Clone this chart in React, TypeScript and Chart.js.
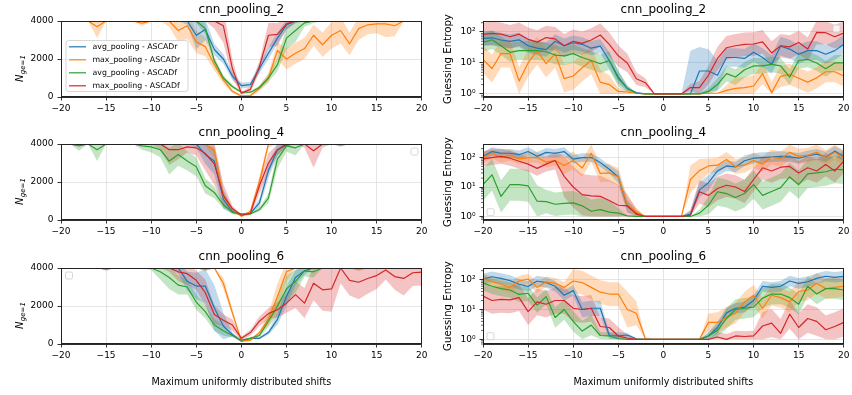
import React, { useEffect, useRef } from 'react';
import { Chart, registerables } from 'chart.js';

Chart.register(...registerables);

const FONT = "'DejaVu Sans', 'Liberation Sans', sans-serif";

// ---------------- shared labels ----------------
const shifts = [-20, -19, -18, -17, -16, -15, -14, -13, -12, -11, -10, -9, -8, -7, -6, -5, -4, -3, -2, -1, 0, 1, 2, 3, 4, 5, 6, 7, 8, 9, 10, 11, 12, 13, 14, 15, 16, 17, 18, 19, 20];
const seriesNames = ['avg_pooling - ASCADr', 'max_pooling - ASCADr', 'avg_pooling - ASCADf', 'max_pooling - ASCADf'];
const seriesColors = ['#1f77b4', '#ff7f0e', '#2ca02c', '#d62728'];
const modelTitles = ['cnn_pooling_2', 'cnn_pooling_4', 'cnn_pooling_6'];
const xTickValues = [-20, -15, -10, -5, 0, 5, 10, 15, 20];
const nTickValues = [0, 2000, 4000];
const geTickValues = [1, 10, 100];
const geTickLabels = ['10\u2070', '10\u00b9', '10\u00b2'];
const geMinorMultipliers = [2, 3, 4, 5, 6, 7, 8, 9];
const geMinorDecades = [0.1, 1, 10, 100];
const xAxisLabel = 'Maximum uniformly distributed shifts';
const geAxisLabel = 'Guessing Entropy';
const nAxisMain = 'N';
const nAxisSub = 'ge=1';

// ---------------- cnn_pooling_2 : N_ge=1 (mean, std) ----------------
const p2N_avgR = [4000, 4000, 4000, 4000, 4000, 4000, 4000, 4000, 4000, 4000, 4000, 4000, 4000, 4000, 4000, 3250, 3550, 2500, 2000, 1100, 600, 650, 1500, 2300, 3100, 3800, 4000, 4000, 4000, 4000, 4000, 4000, 4000, 4000, 4000, 4000, 4000, 4000, 4000, 4000, 4000];
const p2N_avgR_sd = [0, 0, 0, 0, 0, 0, 0, 0, 0, 0, 0, 0, 0, 0, 200, 750, 550, 300, 250, 200, 150, 150, 250, 300, 300, 250, 100, 0, 0, 0, 0, 0, 0, 0, 0, 0, 0, 0, 0, 0, 0];
const p2N_maxR = [4000, 4000, 4000, 4000, 3700, 4000, 4000, 4000, 4000, 3880, 4000, 4000, 4000, 3500, 3750, 2900, 2650, 1700, 900, 300, 50, 80, 450, 1000, 2450, 2000, 2300, 2550, 3250, 2750, 3250, 3500, 2800, 3600, 3800, 3850, 3850, 3750, 4000, 4000, 4000];
const p2N_maxR_sd = [0, 0, 0, 0, 600, 0, 0, 0, 0, 150, 0, 0, 300, 600, 700, 600, 500, 300, 200, 100, 50, 50, 150, 250, 450, 550, 550, 550, 550, 650, 700, 700, 600, 600, 500, 500, 700, 550, 0, 0, 0];
const p2N_avgF = [4000, 4000, 4000, 4000, 4000, 4000, 4000, 4000, 4000, 4000, 4000, 4000, 4000, 4000, 4000, 4000, 3600, 1900, 1000, 550, 250, 250, 500, 1000, 1700, 3100, 3500, 3900, 4000, 4000, 4000, 4000, 4000, 4000, 4000, 4000, 4000, 4000, 4000, 4000, 4000];
const p2N_avgF_sd = [0, 0, 0, 0, 0, 0, 0, 0, 0, 0, 0, 0, 0, 0, 0, 100, 300, 200, 150, 100, 50, 50, 100, 200, 350, 600, 600, 200, 100, 0, 0, 0, 0, 0, 0, 0, 0, 0, 0, 0, 0];
const p2N_maxF = [4000, 4000, 4000, 4000, 4000, 4000, 4000, 4000, 4000, 4000, 4000, 4000, 4000, 4000, 4000, 4000, 4000, 4000, 3750, 1500, 200, 400, 1600, 3250, 3300, 3850, 4000, 4000, 4000, 4000, 4000, 4000, 4000, 4000, 4000, 4000, 4000, 4000, 4000, 4000, 4000];
const p2N_maxF_sd = [0, 0, 0, 0, 0, 0, 0, 0, 0, 0, 0, 0, 0, 0, 0, 0, 0, 400, 900, 500, 80, 150, 300, 650, 600, 300, 100, 0, 0, 0, 0, 0, 0, 0, 0, 0, 0, 0, 0, 0, 0];

// ---------------- cnn_pooling_2 : guessing entropy (mean, spread factor) ----------------
const p2G_avgR = [62, 65, 55, 50, 56, 36, 30, 27, 50, 36, 45, 40, 30, 35, 12, 3.5, 1.5, 1.1, 1, 1, 1, 1, 1, 1, 5.5, 5.5, 4, 15, 15, 14, 22, 15, 9, 35, 28, 19, 25, 25, 19, 25, 40];
const p2G_avgR_f = [1.7, 1.7, 1.7, 1.7, 1.7, 1.7, 1.7, 1.7, 1.7, 1.7, 1.7, 1.7, 1.7, 1.7, 1.8, 1.6, 1.2, 1, 1, 1, 1, 1, 1, 25, 6, 5, 3, 2, 2, 2, 2, 2, 2, 2, 2, 2, 2, 2, 2, 2, 2];
const p2G_maxR = [13, 6.6, 20, 20, 2.6, 10, 25, 9.5, 20, 3.1, 3.8, 7, 12, 2.4, 2, 1.2, 1.15, 1.05, 1, 1, 1, 1, 1, 1, 1, 1.05, 1.05, 1.3, 1.5, 1.6, 1.8, 4.5, 1.1, 3.7, 4.3, 3.2, 2.4, 3.3, 5.2, 5.2, 3.8];
const p2G_maxR_f = [2.8, 2.8, 2.8, 2.8, 2.8, 2.8, 2.8, 2.8, 2.8, 2.8, 2.8, 2.8, 2.8, 2.5, 2, 1.3, 1.2, 1, 1, 1, 1, 1, 1, 1, 1, 1, 1, 1.5, 2.2, 2.2, 2.2, 2.2, 2.2, 2.2, 2.2, 2.2, 2.2, 2.2, 2.2, 2.2, 2.2];
const p2G_avgF = [46, 56, 36, 22, 25, 25, 25, 23, 18, 17, 20, 15, 12, 9.4, 12, 3.1, 1.5, 1.05, 1, 1, 1, 1, 1, 1, 1, 1.2, 2, 4.5, 3.5, 6, 8, 8, 9, 8, 3.5, 12, 13, 10, 6.5, 10, 10];
const p2G_avgF_f = [2, 2, 2, 2, 2, 2, 2, 2, 2, 2, 2, 2, 2, 2, 2, 1.8, 1.3, 1, 1, 1, 1, 1, 1, 1, 1, 1.3, 1.6, 1.8, 1.8, 1.8, 1.8, 1.8, 1.8, 1.8, 1.8, 1.8, 1.8, 1.8, 1.8, 1.8, 1.8];
const p2G_maxF = [84, 90, 85, 70, 85, 58, 47, 66, 60, 36, 50, 43, 55, 80, 40, 17, 10, 3.1, 2.3, 1, 1, 1, 1, 1.6, 1.6, 4, 14, 31, 36, 40, 41, 48, 21, 36, 33, 46, 28, 97, 95, 70, 92];
const p2G_maxF_f = [2.4, 2.4, 2.4, 2.4, 2.4, 2.4, 2.4, 2.4, 2.4, 2.4, 2.4, 2.4, 2.4, 2.4, 2.4, 2.2, 2, 1.6, 1.4, 1, 1, 1, 1, 1.3, 1.6, 2, 2.4, 2.4, 2.4, 2.4, 2.4, 2.4, 2.4, 2.4, 2.4, 2.4, 2.4, 2.4, 2.4, 2.4, 2.4];

// ---------------- cnn_pooling_4 : N_ge=1 ----------------
const p4N_avgR = [4000, 4000, 4000, 4000, 4000, 4000, 4000, 4000, 4000, 4000, 4000, 4000, 4000, 4000, 4000, 4000, 3450, 3100, 1100, 450, 300, 350, 900, 2600, 3700, 4000, 4000, 4000, 4000, 4000, 4000, 4000, 4000, 4000, 4000, 4000, 4000, 4000, 4000, 4000, 4000];
const p4N_avgR_sd = [0, 0, 0, 0, 0, 0, 0, 0, 0, 0, 0, 0, 0, 0, 0, 200, 500, 700, 500, 100, 50, 50, 250, 400, 300, 100, 0, 0, 0, 0, 0, 0, 0, 0, 0, 0, 0, 0, 0, 0, 0];
const p4N_maxR = [4000, 4000, 4000, 4000, 4000, 4000, 4000, 4000, 4000, 4000, 4000, 4000, 4000, 4000, 4000, 4000, 4000, 3650, 1250, 550, 200, 450, 2000, 4000, 4000, 4000, 4000, 4000, 4000, 4000, 4000, 4000, 4000, 4000, 4000, 4000, 4000, 4000, 4000, 4000, 4000];
const p4N_maxR_sd = [0, 0, 0, 0, 0, 0, 0, 0, 0, 0, 0, 0, 0, 0, 0, 0, 100, 400, 300, 100, 50, 100, 300, 200, 0, 0, 0, 0, 0, 0, 0, 0, 0, 0, 0, 0, 0, 0, 0, 0, 0];
const p4N_avgF = [4000, 4000, 3900, 4000, 3700, 4000, 4000, 4000, 4000, 3900, 3850, 3700, 3100, 3450, 3100, 2800, 1800, 1450, 800, 400, 300, 320, 550, 1150, 3200, 3900, 3800, 4000, 4000, 4000, 4000, 3950, 4000, 4000, 4000, 4000, 4000, 4000, 4000, 4000, 4000];
const p4N_avgF_sd = [0, 0, 250, 0, 600, 0, 0, 0, 0, 200, 300, 400, 700, 600, 500, 500, 400, 300, 200, 100, 50, 50, 100, 250, 500, 300, 400, 0, 0, 0, 0, 100, 0, 0, 0, 0, 0, 0, 0, 0, 0];
const p4N_maxF = [4000, 4000, 4000, 4000, 4000, 4000, 4000, 4000, 4000, 4000, 4000, 4000, 3700, 3700, 3850, 3800, 3500, 2950, 1300, 600, 250, 350, 1800, 3000, 3700, 3950, 4000, 4000, 3650, 4000, 4000, 4000, 4000, 4000, 4000, 4000, 4000, 4000, 4000, 4000, 4000];
const p4N_maxF_sd = [0, 0, 0, 0, 0, 0, 0, 0, 0, 0, 0, 300, 800, 500, 300, 400, 900, 1100, 600, 150, 50, 100, 400, 500, 300, 100, 0, 200, 900, 200, 0, 0, 0, 0, 0, 0, 0, 0, 0, 0, 0];

// ---------------- cnn_pooling_4 : guessing entropy ----------------
const p4G_avgR = [110, 160, 140, 140, 125, 160, 110, 150, 140, 160, 88, 100, 100, 68, 40, 22, 2.2, 1.3, 1, 1, 1, 1, 1, 1.2, 8, 14, 35, 52, 48, 78, 95, 100, 105, 110, 105, 95, 115, 130, 105, 165, 110];
const p4G_avgR_f = [1.4, 1.4, 1.4, 1.4, 1.4, 1.4, 1.4, 1.4, 1.4, 1.4, 1.4, 1.4, 1.4, 1.4, 1.4, 1.6, 1.6, 1.2, 1, 1, 1, 1, 1, 1.3, 1.8, 1.8, 1.5, 1.5, 1.5, 1.5, 1.5, 1.5, 1.5, 1.5, 1.5, 1.5, 1.5, 1.5, 1.5, 1.5, 1.5];
const p4G_maxR = [100, 140, 100, 120, 90, 100, 100, 70, 80, 54, 80, 44, 140, 29, 30, 22, 2.5, 1.4, 1, 1, 1, 1, 1, 18, 36, 52, 55, 86, 50, 55, 80, 60, 105, 90, 150, 110, 120, 150, 100, 150, 100];
const p4G_maxR_f = [1.5, 1.5, 1.5, 1.5, 1.5, 1.5, 1.5, 1.5, 1.5, 2, 2, 2, 2, 2, 2, 2, 1.8, 1.4, 1, 1, 1, 1, 1, 3, 2.5, 1.8, 1.8, 1.8, 1.8, 1.8, 1.8, 1.8, 1.8, 1.8, 1.8, 1.8, 1.8, 1.8, 1.8, 1.8, 1.8];
const p4G_avgF = [12, 26, 4.8, 12, 12, 11, 3.3, 3.2, 2.6, 2.8, 2.9, 2.3, 1.5, 1.7, 1.4, 1.3, 1.05, 1, 1, 1, 1, 1, 1, 1, 1.3, 2.4, 6.9, 6, 4.4, 6, 12, 5.2, 7, 9.5, 22, 12, 28, 30, 33, 40, 38];
const p4G_avgF_f = [3.5, 3.5, 3.5, 3.5, 3.5, 3.5, 3.5, 2.5, 2.5, 2.5, 2.5, 2.5, 2.5, 2.5, 2.5, 1.5, 1, 1, 1, 1, 1, 1, 1, 1, 1.3, 2, 3, 3, 3, 3, 3, 3, 3, 3, 3, 3, 3, 3, 3, 3, 3];
const p4G_maxF = [90, 100, 110, 95, 75, 60, 43, 60, 79, 23, 10, 5.5, 5, 4.8, 3.5, 2.4, 2.3, 1.2, 1, 1, 1, 1, 1, 1.1, 6.9, 5.2, 8.9, 11.5, 10, 7, 18, 45, 35, 47, 50, 30, 45, 35, 58, 35, 75];
const p4G_maxF_f = [1.8, 1.8, 1.8, 1.8, 1.8, 1.8, 1.8, 1.8, 2, 5, 5, 5, 5, 5, 5, 5, 2.5, 1.5, 1, 1, 1, 1, 1, 1.5, 2.5, 2.5, 2.5, 2.5, 2.5, 2.5, 2.5, 2.5, 2.5, 2.5, 2.5, 2.5, 2.5, 2.5, 2.5, 2.5, 2.5];

// ---------------- cnn_pooling_6 : N_ge=1 ----------------
const p6N_avgR = [4000, 4000, 4000, 4000, 4000, 4000, 4000, 4000, 4000, 4000, 4000, 4000, 4000, 4000, 3300, 3050, 3050, 1900, 950, 500, 150, 300, 300, 600, 1300, 2500, 3500, 3850, 4000, 4000, 4000, 4000, 4000, 4000, 4000, 4000, 4000, 4000, 4000, 4000, 4000];
const p6N_avgR_sd = [0, 0, 0, 0, 0, 0, 0, 0, 0, 0, 0, 0, 0, 300, 500, 700, 900, 1200, 700, 100, 50, 50, 50, 100, 300, 500, 400, 200, 0, 0, 0, 0, 0, 0, 0, 0, 0, 0, 0, 0, 0];
const p6N_maxR = [4000, 4000, 4000, 4000, 4000, 4000, 4000, 4000, 4000, 4000, 4000, 4000, 4000, 4000, 4000, 4000, 3920, 4000, 3200, 1650, 150, 200, 600, 1300, 2500, 3800, 4000, 4000, 4000, 4000, 4000, 4000, 4000, 3920, 4000, 4000, 4000, 4000, 4000, 4000, 4000];
const p6N_maxR_sd = [0, 0, 0, 0, 0, 0, 0, 0, 0, 0, 0, 0, 0, 0, 0, 0, 100, 0, 300, 200, 50, 50, 100, 300, 700, 500, 0, 0, 0, 0, 0, 0, 0, 100, 0, 0, 0, 0, 0, 0, 0];
const p6N_avgF = [4000, 4000, 4000, 4000, 4000, 4000, 4000, 4000, 4000, 4000, 4000, 3800, 3500, 3100, 3000, 2200, 1700, 1000, 700, 450, 200, 300, 450, 1200, 2000, 2900, 3300, 3850, 3800, 4000, 4000, 4000, 4000, 4000, 4000, 4000, 4000, 4000, 4000, 4000, 4000];
const p6N_avgF_sd = [0, 0, 0, 0, 0, 0, 0, 0, 0, 0, 100, 400, 600, 500, 400, 400, 350, 300, 250, 100, 50, 50, 100, 300, 500, 700, 600, 300, 300, 0, 0, 0, 0, 0, 0, 0, 0, 0, 0, 0, 0];
const p6N_maxF = [4000, 4000, 4000, 4000, 4000, 3950, 4000, 4000, 4000, 4000, 4000, 4000, 4000, 3800, 3700, 3350, 2700, 1550, 1250, 1000, 300, 600, 1200, 1600, 1800, 2150, 2600, 2150, 3200, 2850, 2900, 4000, 3350, 3250, 3450, 3600, 3900, 3550, 3450, 3750, 3780];
const p6N_maxF_sd = [0, 0, 0, 0, 0, 100, 0, 0, 0, 0, 0, 0, 200, 500, 600, 500, 700, 500, 300, 300, 100, 150, 250, 300, 400, 500, 700, 800, 900, 1100, 1200, 800, 800, 900, 800, 700, 500, 700, 900, 700, 700];

// ---------------- cnn_pooling_6 : guessing entropy ----------------
const p6G_avgR = [105, 125, 110, 93, 70, 59, 90, 80, 60, 30, 43, 10, 11, 11, 1.35, 1.3, 1.4, 1.05, 1, 1, 1, 1, 1, 1, 1, 1.3, 2.5, 7.7, 11, 12, 20, 60, 55, 60, 90, 75, 85, 110, 130, 120, 130];
const p6G_avgR_f = [1.5, 1.5, 1.5, 1.5, 1.5, 1.5, 1.5, 1.5, 1.5, 1.5, 1.5, 1.8, 1.8, 1.8, 1.3, 1.3, 1.2, 1, 1, 1, 1, 1, 1, 1, 1, 1.3, 1.6, 1.5, 1.5, 1.5, 1.5, 1.5, 1.5, 1.5, 1.5, 1.5, 1.5, 1.5, 1.5, 1.5, 1.5];
const p6G_maxR = [110, 85, 70, 55, 90, 105, 55, 85, 75, 55, 90, 80, 55, 38, 33, 33, 10, 7.5, 1.05, 1, 1, 1, 1, 1, 1, 3.7, 3.7, 5.5, 7.5, 18, 30, 11, 30, 25, 18, 40, 45, 76, 50, 55, 60];
const p6G_maxR_f = [1.5, 1.5, 1.5, 1.5, 1.5, 1.5, 1.5, 1.5, 1.5, 1.5, 2.5, 2.5, 2.5, 2.5, 2.5, 2.5, 4, 2.5, 1.1, 1, 1, 1, 1, 1, 1, 2, 2.2, 2.2, 2.2, 2.2, 2.2, 2.2, 2.2, 2.2, 2.2, 2.2, 2.2, 2.2, 2.2, 2.2, 2.2];
const p6G_avgF = [78, 60, 50, 45, 32, 35, 14, 27, 5.4, 10, 4, 1.9, 3, 1.35, 1.3, 1.05, 1, 1, 1, 1, 1, 1, 1, 1, 1, 1.3, 2, 5, 10, 11, 12, 24, 33, 33, 25, 15, 60, 33, 50, 50, 45];
const p6G_avgF_f = [1.8, 1.8, 1.8, 1.8, 1.8, 1.8, 1.8, 1.8, 2.2, 2.2, 2.2, 2.2, 2.2, 1.3, 1.3, 1.3, 1, 1, 1, 1, 1, 1, 1, 1, 1, 1.3, 1.6, 2.2, 2.2, 2.2, 2.2, 2.2, 2.2, 2.2, 2.2, 2.2, 2.2, 2.2, 2.2, 2.2, 2.2];
const p6G_maxF = [28, 20, 22, 21, 25, 8.5, 18, 15, 20, 20, 11, 10, 11, 2.7, 2.5, 1.3, 1.1, 1, 1, 1, 1, 1, 1, 1, 1, 1, 1.2, 1, 1.3, 1.25, 1.3, 2.8, 3.5, 1.6, 7, 2.5, 5, 4, 2.1, 2.7, 3.7];
const p6G_maxF_f = [2.8, 2.8, 2.8, 2.8, 2.8, 2.8, 2.8, 2.8, 2.8, 2.8, 2.8, 2.8, 2.8, 2, 2, 2, 1.3, 1, 1, 1, 1, 1, 1, 1, 1, 1, 1.5, 1.5, 1.5, 1.5, 1.5, 3, 3, 3, 3, 3, 3, 3, 3, 3, 3];

// log axis extent (decade exponents) per row
const geAxisExp = [[-0.1, 2.355], [-0.12, 2.46], [-0.13, 2.39]];

type Panel = {
  title: string;
  kind: 'lin' | 'log';
  row: number;
  col: number;
  means: number[][];
  spreads: number[][];
  legend: 'full' | 'ur' | 'ul' | 'll';
};

const panels: Panel[] = [
  { title: modelTitles[0], kind: 'lin', row: 0, col: 0, means: [p2N_avgR, p2N_maxR, p2N_avgF, p2N_maxF], spreads: [p2N_avgR_sd, p2N_maxR_sd, p2N_avgF_sd, p2N_maxF_sd], legend: 'full' },
  { title: modelTitles[0], kind: 'log', row: 0, col: 1, means: [p2G_avgR, p2G_maxR, p2G_avgF, p2G_maxF], spreads: [p2G_avgR_f, p2G_maxR_f, p2G_avgF_f, p2G_maxF_f], legend: 'ur' },
  { title: modelTitles[1], kind: 'lin', row: 1, col: 0, means: [p4N_avgR, p4N_maxR, p4N_avgF, p4N_maxF], spreads: [p4N_avgR_sd, p4N_maxR_sd, p4N_avgF_sd, p4N_maxF_sd], legend: 'ur' },
  { title: modelTitles[1], kind: 'log', row: 1, col: 1, means: [p4G_avgR, p4G_maxR, p4G_avgF, p4G_maxF], spreads: [p4G_avgR_f, p4G_maxR_f, p4G_avgF_f, p4G_maxF_f], legend: 'll' },
  { title: modelTitles[2], kind: 'lin', row: 2, col: 0, means: [p6N_avgR, p6N_maxR, p6N_avgF, p6N_maxF], spreads: [p6N_avgR_sd, p6N_maxR_sd, p6N_avgF_sd, p6N_maxF_sd], legend: 'ul' },
  { title: modelTitles[2], kind: 'log', row: 2, col: 1, means: [p6G_avgR, p6G_maxR, p6G_avgF, p6G_maxF], spreads: [p6G_avgR_f, p6G_maxR_f, p6G_avgF_f, p6G_maxF_f], legend: 'll' },
];

// layout geometry
const colLeft = [0, 430];
const colWidth = [430, 422];
const colAxisW = [61, 53];
const colPadR = [6, 6.5];
const rowTop = [0, 123, 247];
const rowHeight = [123, 123, 148];

function rgba(hex: string, a: number) {
  const n = parseInt(hex.slice(1), 16);
  return `rgba(${(n >> 16) & 255}, ${(n >> 8) & 255}, ${n & 255}, ${a})`;
}

function roundRectPath(ctx: CanvasRenderingContext2D, x: number, y: number, w: number, h: number, r: number) {
  ctx.beginPath();
  ctx.moveTo(x + r, y);
  ctx.lineTo(x + w - r, y);
  ctx.arcTo(x + w, y, x + w, y + r, r);
  ctx.lineTo(x + w, y + h - r);
  ctx.arcTo(x + w, y + h, x + w - r, y + h, r);
  ctx.lineTo(x + r, y + h);
  ctx.arcTo(x, y + h, x, y + h - r, r);
  ctx.lineTo(x, y + r);
  ctx.arcTo(x, y, x + r, y, r);
  ctx.closePath();
}

function PanelChart({ p }: { p: Panel }) {
  const ref = useRef<HTMLCanvasElement>(null);
  useEffect(() => {
    const canvas = ref.current;
    if (!canvas) return;
    const isLog = p.kind === 'log';
    const bandSets: any[] = [];
    const lineSets: any[] = [];
    p.means.forEach((m, i) => {
      const s = p.spreads[i];
      const hi = m.map((v, k) => (isLog ? v * s[k] : v + s[k]));
      const lo = m.map((v, k) => (isLog ? Math.max(1, v / s[k]) : Math.max(0, v - s[k])));
      bandSets.push({
        data: hi.map((y, k) => ({ x: shifts[k], y })),
        borderWidth: 0,
        borderColor: 'rgba(0,0,0,0)',
        pointRadius: 0,
        fill: false,
        order: 20,
        clip: 0,
      });
      bandSets.push({
        data: lo.map((y, k) => ({ x: shifts[k], y })),
        borderWidth: 0,
        borderColor: 'rgba(0,0,0,0)',
        backgroundColor: rgba(seriesColors[i], 0.28),
        pointRadius: 0,
        fill: '-1',
        order: 20,
        clip: 0,
      });
      lineSets.push({
        label: seriesNames[i],
        data: m.map((y, k) => ({ x: shifts[k], y })),
        borderColor: seriesColors[i],
        borderWidth: 1.2,
        borderJoinStyle: 'round',
        pointRadius: 0,
        fill: false,
        order: 3 - i,
        clip: 0,
      });
    });

    const isBottom = p.row === 2;
    const xH = rowHeight[p.row] - 97;
    const exps = geAxisExp[p.row];

    const decor = {
      id: 'decor',
      afterDraw(chart: any) {
        const ctx: CanvasRenderingContext2D = chart.ctx;
        const a = chart.chartArea;
        ctx.save();
        // legend
        if (p.legend === 'full') {
          const lx = a.left + 5;
          const ly = a.top + 19.5;
          const lw = 122;
          const lh = 51;
          roundRectPath(ctx, lx, ly, lw, lh, 2.5);
          ctx.fillStyle = 'rgba(255,255,255,0.8)';
          ctx.fill();
          ctx.strokeStyle = '#cccccc';
          ctx.lineWidth = 0.8;
          ctx.stroke();
          ctx.font = `7.8px ${FONT}`;
          ctx.textBaseline = 'middle';
          ctx.textAlign = 'left';
          seriesNames.forEach((name, i) => {
            const y = ly + 6.3 + 13 * i;
            ctx.beginPath();
            ctx.moveTo(lx + 3, y);
            ctx.lineTo(lx + 20, y);
            ctx.strokeStyle = seriesColors[i];
            ctx.lineWidth = 1.2;
            ctx.stroke();
            ctx.fillStyle = '#000';
            ctx.fillText(name, lx + 26.5, y);
          });
        } else {
          const sz = 7;
          let bx = a.left + 4.5;
          let by = a.top + 4;
          if (p.legend === 'ur') { bx = a.right - 3.8 - sz; by = a.top + 4; }
          if (p.legend === 'll') { bx = a.left + 4; by = a.bottom - 4.3 - sz; }
          roundRectPath(ctx, bx, by, sz, sz, 1.5);
          ctx.fillStyle = 'rgba(255,255,255,0.8)';
          ctx.fill();
          ctx.strokeStyle = '#cccccc';
          ctx.lineWidth = 0.8;
          ctx.stroke();
        }
        // minor ticks on the log axis
        if (isLog) {
          const ys = chart.scales.y;
          ctx.strokeStyle = '#000';
          ctx.lineWidth = 0.6;
          geMinorDecades.forEach((d) => {
            geMinorMultipliers.forEach((k) => {
              const v = d * k;
              if (v < ys.min || v > ys.max) return;
              const py = ys.getPixelForValue(v);
              ctx.beginPath();
              ctx.moveTo(a.left - 2, py);
              ctx.lineTo(a.left, py);
              ctx.stroke();
            });
          });
        }
        // frame (spines), aligned so it fully covers the edge pixel row/column inside the plot
        const fl = Math.round(a.left) + 0.5;
        const ft = Math.round(a.top) + 0.5;
        const fr = Math.round(a.right) - 0.5;
        const fb = Math.round(a.bottom) - 0.5;
        ctx.strokeStyle = '#222';
        ctx.lineWidth = 1;
        ctx.strokeRect(fl, ft, fr - fl, fb - ft);
        // N_ge=1 label
        if (!isLog) {
          ctx.translate(23, (a.top + a.bottom) / 2 + 23);
          ctx.rotate(-Math.PI / 2);
          ctx.fillStyle = '#000';
          ctx.textBaseline = 'alphabetic';
          ctx.textAlign = 'left';
          ctx.font = `italic 10px ${FONT}`;
          ctx.fillText(nAxisMain, 0, 0);
          const w = ctx.measureText(nAxisMain).width;
          ctx.font = `italic 7px ${FONT}`;
          ctx.fillText(nAxisSub, w + 0.3, 1.8);
        }
        ctx.restore();
      },
    };

    const gridCfg = {
      color: '#dedede',
      lineWidth: 0.8,
      drawTicks: true,
      tickLength: 3.5,
      tickColor: '#000',
      tickWidth: 0.8,
    };

    const yScale: any = isLog
      ? {
          type: 'logarithmic',
          min: Math.pow(10, exps[0]),
          max: Math.pow(10, exps[1]),
          afterBuildTicks: (s: any) => { s.ticks = geTickValues.map((v) => ({ value: v })); },
          ticks: {
            autoSkip: false,
            padding: 4,
            color: '#000',
            font: { family: FONT, size: 9 },
            callback: (v: number) => geTickLabels[geTickValues.indexOf(Math.round(v))] ?? '',
          },
          grid: gridCfg,
          border: { display: true, color: '#000', width: 0.8 },
          title: {
            display: true,
            text: geAxisLabel,
            color: '#000',
            font: { family: FONT, size: 10.2 },
            padding: { top: 11.9, bottom: 0 },
          },
          afterFit: (s: any) => { s.width = colAxisW[p.col]; },
        }
      : {
          type: 'linear',
          min: 0,
          max: 4000,
          afterBuildTicks: (s: any) => { s.ticks = nTickValues.map((v) => ({ value: v })); },
          ticks: {
            autoSkip: false,
            padding: 4,
            color: '#000',
            font: { family: FONT, size: 9 },
            callback: (v: number) => String(v),
          },
          grid: gridCfg,
          border: { display: true, color: '#000', width: 0.8 },
          afterFit: (s: any) => { s.width = colAxisW[p.col]; },
        };

    const chart = new Chart(canvas, {
      type: 'line',
      data: { datasets: [...bandSets, ...lineSets] },
      options: {
        responsive: false,
        animation: false,
        devicePixelRatio: 1,
        events: [],
        layout: { padding: { left: 0, right: colPadR[p.col], top: 0, bottom: 0 } },
        plugins: {
          legend: { display: false },
          tooltip: { enabled: false },
          title: {
            display: true,
            text: p.title,
            color: '#000',
            fullSize: false,
            font: { family: FONT, size: 12, weight: 'normal' },
            padding: { top: 3, bottom: 3.6 },
          },
        },
        elements: { line: { tension: 0 }, point: { radius: 0 } },
        scales: {
          x: {
            type: 'linear',
            min: -20,
            max: 20,
            afterBuildTicks: (s: any) => { s.ticks = xTickValues.map((v) => ({ value: v })); },
            ticks: {
              autoSkip: false,
              maxRotation: 0,
              padding: 2.5,
              color: '#000',
              font: { family: FONT, size: 9 },
              callback: (v: number) => (v < 0 ? '\u2212' + Math.abs(v) : String(v)),
            },
            grid: gridCfg,
            border: { display: true, color: '#000', width: 0.8 },
            title: {
              display: isBottom,
              text: xAxisLabel,
              color: '#000',
              font: { family: FONT, size: 9.6 },
              padding: { top: 0, bottom: 6.5 },
            },
            afterFit: (s: any) => { s.height = xH; },
          },
          y: yScale,
        },
      } as any,
      plugins: [decor as any],
    });
    return () => chart.destroy();
  }, [p]);

  return (
    <canvas
      ref={ref}
      width={colWidth[p.col]}
      height={rowHeight[p.row]}
      style={{
        position: 'absolute',
        left: colLeft[p.col],
        top: rowTop[p.row],
        width: colWidth[p.col],
        height: rowHeight[p.row],
      }}
    />
  );
}

export default function App() {
  return (
    <div style={{ position: 'absolute', left: 0, top: 0, width: 852, height: 395, background: '#fff', overflow: 'hidden' }}>
      {panels.map((p, i) => (
        <PanelChart key={i} p={p} />
      ))}
    </div>
  );
}
